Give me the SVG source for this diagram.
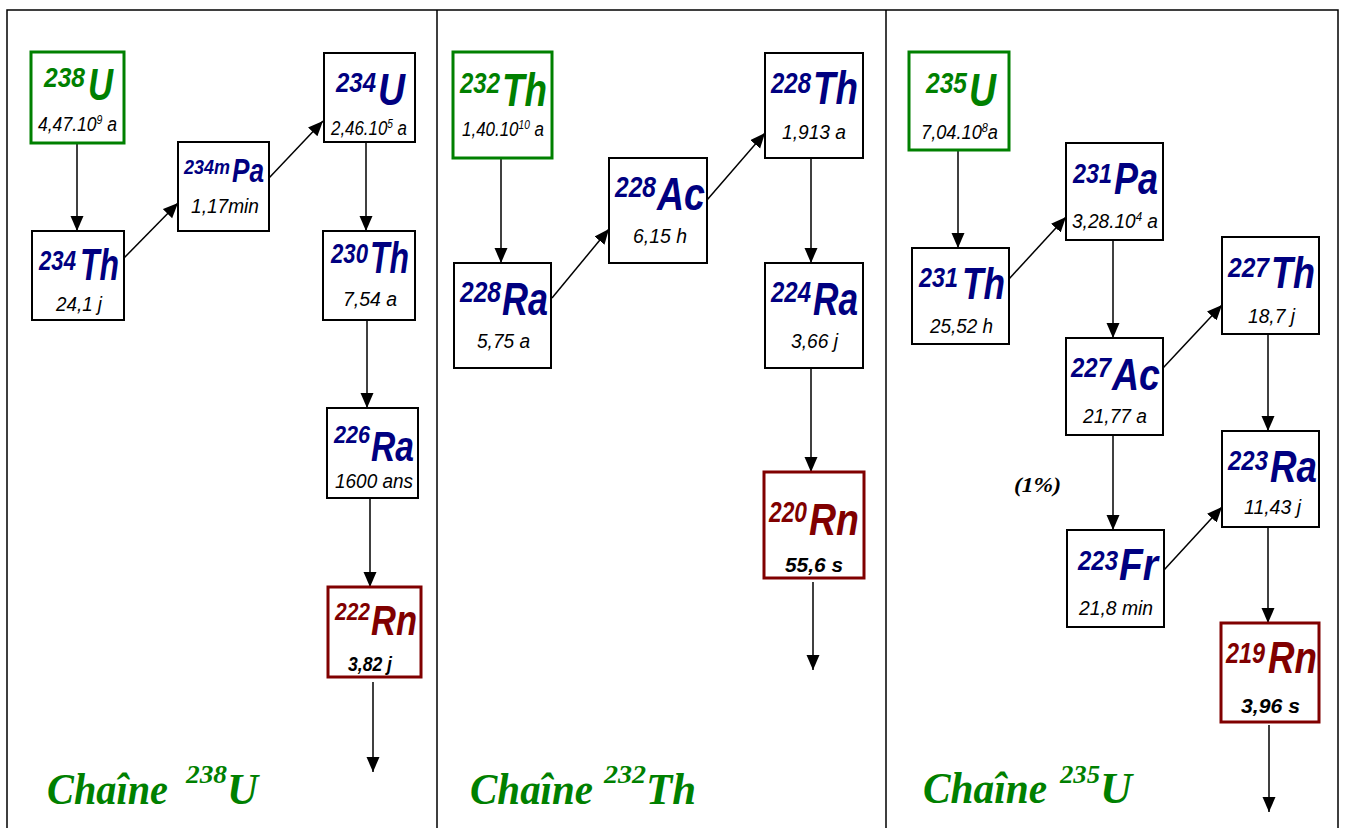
<svg xmlns="http://www.w3.org/2000/svg" width="1346" height="828" viewBox="0 0 1346 828">
<style>
.bx{fill:#fff;stroke:#000;stroke-width:2}
.bg{fill:#fff;stroke:#008000;stroke-width:3}
.br{fill:#fff;stroke:#800000;stroke-width:3}
.s{font-family:"Liberation Sans",Arial,sans-serif;font-weight:bold;font-style:italic}
.el{font-size:45px}
.sp{font-size:28px}
.b{fill:#000080}.g{fill:#008000}.r{fill:#800000}
.h{font-family:"Liberation Sans",Arial,sans-serif;font-style:italic;font-size:20px;fill:#000}
.hb{font-weight:bold;font-size:21px}
.hs{font-size:12px}
.t{font-family:"Liberation Serif","Times New Roman",serif;font-weight:bold;font-style:italic;fill:#008000}
.fr{fill:none;stroke:#000;stroke-width:1.5}
.c line{stroke:#000;stroke-width:1.5;marker-end:url(#ah)}
</style>
<defs>
<marker id="ah" markerUnits="userSpaceOnUse" markerWidth="16" markerHeight="14" refX="15" refY="6.5" orient="auto"><path d="M0,0 L15,6.5 L0,13 z" fill="#000"/></marker>
</defs>
<rect width="1346" height="828" fill="#fff"/>
<g id="frame">
<path class="fr" d="M7,828 V10 H1338 V828 M437,10 V828 M886,10 V828"/>
</g>
<g id="connectors" class="c">
<line x1="77" y1="143" x2="77" y2="231"/>
<line x1="124" y1="258" x2="178" y2="203"/>
<line x1="269" y1="178" x2="323" y2="121"/>
<line x1="366" y1="142" x2="366" y2="231"/>
<line x1="367" y1="320" x2="367" y2="408"/>
<line x1="370" y1="498" x2="370" y2="587"/>
<line x1="373" y1="682" x2="373" y2="772"/>
<line x1="501" y1="158" x2="501" y2="263"/>
<line x1="552" y1="298" x2="609" y2="229"/>
<line x1="707" y1="200" x2="765" y2="133"/>
<line x1="811" y1="158" x2="811" y2="263"/>
<line x1="811" y1="368" x2="811" y2="472"/>
<line x1="813" y1="582" x2="813" y2="670"/>
<line x1="958" y1="150" x2="958" y2="248"/>
<line x1="1009" y1="279" x2="1066" y2="217"/>
<line x1="1113" y1="240" x2="1113" y2="338"/>
<line x1="1163" y1="368" x2="1222" y2="305"/>
<line x1="1268" y1="334" x2="1268" y2="431"/>
<line x1="1113" y1="435" x2="1113" y2="530"/>
<line x1="1164" y1="570" x2="1222" y2="507"/>
<line x1="1268" y1="527" x2="1268" y2="623"/>
<line x1="1269" y1="725" x2="1269" y2="812"/>
</g>
<g id="n238U">
<rect class="bg" x="31" y="52" width="93" height="91"/>
<text class="s sp g" x="44" y="87" textLength="41" lengthAdjust="spacingAndGlyphs">238</text>
<text class="s el g" x="88" y="100" textLength="25" lengthAdjust="spacingAndGlyphs">U</text>
<text class="h" x="38" y="131" textLength="79" lengthAdjust="spacingAndGlyphs">4,47.10<tspan class="hs" dy="-7">9</tspan><tspan dy="7"> a</tspan></text>
</g>
<g id="n234Th">
<rect class="bx" x="32" y="231" width="92" height="89"/>
<text class="s sp b" x="39" y="270" textLength="37" lengthAdjust="spacingAndGlyphs">234</text>
<text class="s el b" x="80" y="280" textLength="39" lengthAdjust="spacingAndGlyphs">Th</text>
<text class="h" x="56" y="311" textLength="46" lengthAdjust="spacingAndGlyphs">24,1 j</text>
</g>
<g id="n234mPa">
<rect class="bx" x="178" y="142" width="91" height="89"/>
<text class="s b" style="font-size:21px" x="184" y="174" textLength="46" lengthAdjust="spacingAndGlyphs">234m</text>
<text class="s b" style="font-size:34px" x="232" y="182" textLength="32" lengthAdjust="spacingAndGlyphs">Pa</text>
<text class="h" x="191" y="213" textLength="68" lengthAdjust="spacingAndGlyphs">1,17min</text>
</g>
<g id="n234U">
<rect class="bx" x="324" y="53" width="91" height="89"/>
<text class="s sp b" x="336" y="92" textLength="40" lengthAdjust="spacingAndGlyphs">234</text>
<text class="s el b" x="378" y="105" textLength="27" lengthAdjust="spacingAndGlyphs">U</text>
<text class="h" x="331" y="135" textLength="76" lengthAdjust="spacingAndGlyphs">2,46.10<tspan class="hs" dy="-7">5</tspan><tspan dy="7"> a</tspan></text>
</g>
<g id="n230Th">
<rect class="bx" x="323" y="231" width="92" height="89"/>
<text class="s sp b" x="331" y="263" textLength="37" lengthAdjust="spacingAndGlyphs">230</text>
<text class="s el b" x="370" y="273" textLength="39" lengthAdjust="spacingAndGlyphs">Th</text>
<text class="h" x="343" y="306" textLength="54" lengthAdjust="spacingAndGlyphs">7,54 a</text>
</g>
<g id="n226Ra">
<rect class="bx" x="327" y="408" width="91" height="90"/>
<text class="s b" style="font-size:23px" x="334" y="443" textLength="36" lengthAdjust="spacingAndGlyphs">226</text>
<text class="s b" style="font-size:43px" x="371" y="461" textLength="43" lengthAdjust="spacingAndGlyphs">Ra</text>
<text class="h" x="335" y="488" textLength="78" lengthAdjust="spacingAndGlyphs">1600 ans</text>
</g>
<g id="n222Rn">
<rect class="br" x="328" y="587" width="93" height="90"/>
<text class="s r" style="font-size:24px" x="335" y="620" textLength="35" lengthAdjust="spacingAndGlyphs">222</text>
<text class="s r" style="font-size:42px" x="371" y="635" textLength="46" lengthAdjust="spacingAndGlyphs">Rn</text>
<text class="h hb" x="348" y="671" textLength="44" lengthAdjust="spacingAndGlyphs">3,82 j</text>
</g>
<g id="n232Th">
<rect class="bg" x="453" y="52" width="99" height="106"/>
<text class="s g" style="font-size:29px" x="460" y="93" textLength="40" lengthAdjust="spacingAndGlyphs">232</text>
<text class="s g" style="font-size:47px" x="502" y="106" textLength="45" lengthAdjust="spacingAndGlyphs">Th</text>
<text class="h" x="462" y="136" textLength="82" lengthAdjust="spacingAndGlyphs">1,40.10<tspan class="hs" dy="-7">10</tspan><tspan dy="7"> a</tspan></text>
</g>
<g id="n228Ra">
<rect class="bx" x="454" y="263" width="97" height="105"/>
<text class="s b" style="font-size:29px" x="460" y="302" textLength="41" lengthAdjust="spacingAndGlyphs">228</text>
<text class="s b" style="font-size:47px" x="502" y="315" textLength="46" lengthAdjust="spacingAndGlyphs">Ra</text>
<text class="h" x="477" y="348" textLength="53" lengthAdjust="spacingAndGlyphs">5,75 a</text>
</g>
<g id="n228Ac">
<rect class="bx" x="609" y="158" width="98" height="105"/>
<text class="s b" style="font-size:29px" x="615" y="197" textLength="41" lengthAdjust="spacingAndGlyphs">228</text>
<text class="s b" style="font-size:47px" x="657" y="210" textLength="48" lengthAdjust="spacingAndGlyphs">Ac</text>
<text class="h" x="633" y="243" textLength="54" lengthAdjust="spacingAndGlyphs">6,15 h</text>
</g>
<g id="n228Th">
<rect class="bx" x="765" y="53" width="98" height="105"/>
<text class="s b" style="font-size:29px" x="771" y="93" textLength="40" lengthAdjust="spacingAndGlyphs">228</text>
<text class="s b" style="font-size:47px" x="813" y="104" textLength="45" lengthAdjust="spacingAndGlyphs">Th</text>
<text class="h" x="782" y="139" textLength="64" lengthAdjust="spacingAndGlyphs">1,913 a</text>
</g>
<g id="n224Ra">
<rect class="bx" x="765" y="263" width="98" height="105"/>
<text class="s b" style="font-size:29px" x="771" y="302" textLength="40" lengthAdjust="spacingAndGlyphs">224</text>
<text class="s b" style="font-size:47px" x="813" y="315" textLength="45" lengthAdjust="spacingAndGlyphs">Ra</text>
<text class="h" x="791" y="348" textLength="47" lengthAdjust="spacingAndGlyphs">3,66 j</text>
</g>
<g id="n220Rn">
<rect class="br" x="764" y="472" width="100" height="106"/>
<text class="s r" style="font-size:29px" x="769" y="522" textLength="38" lengthAdjust="spacingAndGlyphs">220</text>
<text class="s r" style="font-size:45px" x="809" y="535" textLength="50" lengthAdjust="spacingAndGlyphs">Rn</text>
<text class="h hb" x="785" y="572" textLength="58" lengthAdjust="spacingAndGlyphs">55,6 s</text>
</g>
<g id="n235U">
<rect class="bg" x="909" y="52" width="100" height="98"/>
<text class="s g" style="font-size:29px" x="926" y="93" textLength="41" lengthAdjust="spacingAndGlyphs">235</text>
<text class="s g" style="font-size:46px" x="969" y="106" textLength="27" lengthAdjust="spacingAndGlyphs">U</text>
<text class="h" x="921" y="139" textLength="77" lengthAdjust="spacingAndGlyphs">7,04.10<tspan class="hs" dy="-7">8</tspan><tspan dy="7">a</tspan></text>
</g>
<g id="n231Th">
<rect class="bx" x="912" y="248" width="97" height="96"/>
<text class="s b" style="font-size:28px" x="919" y="287" textLength="39" lengthAdjust="spacingAndGlyphs">231</text>
<text class="s b" style="font-size:45px" x="962" y="299" textLength="43" lengthAdjust="spacingAndGlyphs">Th</text>
<text class="h" x="930" y="333" textLength="63" lengthAdjust="spacingAndGlyphs">25,52 h</text>
</g>
<g id="n231Pa">
<rect class="bx" x="1066" y="143" width="97" height="97"/>
<text class="s b" style="font-size:28px" x="1073" y="183" textLength="39" lengthAdjust="spacingAndGlyphs">231</text>
<text class="s b" style="font-size:45px" x="1114" y="194" textLength="44" lengthAdjust="spacingAndGlyphs">Pa</text>
<text class="h" x="1072" y="228" textLength="86" lengthAdjust="spacingAndGlyphs">3,28.10<tspan class="hs" dy="-7">4</tspan><tspan dy="7"> a</tspan></text>
</g>
<g id="n227Ac">
<rect class="bx" x="1066" y="338" width="97" height="97"/>
<text class="s b" style="font-size:28px" x="1071" y="377" textLength="40" lengthAdjust="spacingAndGlyphs">227</text>
<text class="s b" style="font-size:45px" x="1112" y="390" textLength="48" lengthAdjust="spacingAndGlyphs">Ac</text>
<text class="h" x="1083" y="423" textLength="64" lengthAdjust="spacingAndGlyphs">21,77 a</text>
</g>
<g id="n227Th">
<rect class="bx" x="1222" y="237" width="97" height="97"/>
<text class="s b" style="font-size:28px" x="1228" y="277" textLength="41" lengthAdjust="spacingAndGlyphs">227</text>
<text class="s b" style="font-size:45px" x="1271" y="288" textLength="44" lengthAdjust="spacingAndGlyphs">Th</text>
<text class="h" x="1248" y="323" textLength="47" lengthAdjust="spacingAndGlyphs">18,7 j</text>
</g>
<g id="n223Ra">
<rect class="bx" x="1222" y="431" width="97" height="96"/>
<text class="s b" style="font-size:28px" x="1228" y="470" textLength="40" lengthAdjust="spacingAndGlyphs">223</text>
<text class="s b" style="font-size:45px" x="1270" y="482" textLength="47" lengthAdjust="spacingAndGlyphs">Ra</text>
<text class="h" x="1244" y="514" textLength="57" lengthAdjust="spacingAndGlyphs">11,43 j</text>
</g>
<g id="n223Fr">
<rect class="bx" x="1067" y="530" width="97" height="97"/>
<text class="s b" style="font-size:28px" x="1078" y="570" textLength="40" lengthAdjust="spacingAndGlyphs">223</text>
<text class="s b" style="font-size:45px" x="1119" y="580" textLength="39" lengthAdjust="spacingAndGlyphs">Fr</text>
<text class="h" x="1079" y="615" textLength="74" lengthAdjust="spacingAndGlyphs">21,8 min</text>
</g>
<g id="n219Rn">
<rect class="br" x="1221" y="623" width="98" height="99"/>
<text class="s r" style="font-size:29px" x="1226" y="663" textLength="39" lengthAdjust="spacingAndGlyphs">219</text>
<text class="s r" style="font-size:45px" x="1268" y="673" textLength="49" lengthAdjust="spacingAndGlyphs">Rn</text>
<text class="h hb" x="1241" y="713" textLength="59" lengthAdjust="spacingAndGlyphs">3,96 s</text>
</g>
<g id="branch">
<text class="t" style="font-size:20px;fill:#000" x="1014" y="492" textLength="47" lengthAdjust="spacingAndGlyphs">(1%)</text>
</g>
<g id="titles">
<text class="t" style="font-size:44px" x="47" y="804" textLength="121" lengthAdjust="spacingAndGlyphs">Chaîne</text>
<text class="t" style="font-size:26px" x="186" y="783" textLength="41" lengthAdjust="spacingAndGlyphs">238</text>
<text class="t" style="font-size:44px" x="227" y="804" textLength="31" lengthAdjust="spacingAndGlyphs">U</text>
<text class="t" style="font-size:44px" x="470" y="804" textLength="123" lengthAdjust="spacingAndGlyphs">Chaîne</text>
<text class="t" style="font-size:26px" x="604" y="783" textLength="42" lengthAdjust="spacingAndGlyphs">232</text>
<text class="t" style="font-size:44px" x="646" y="804" textLength="50" lengthAdjust="spacingAndGlyphs">Th</text>
<text class="t" style="font-size:44px" x="923" y="803" textLength="124" lengthAdjust="spacingAndGlyphs">Chaîne</text>
<text class="t" style="font-size:26px" x="1060" y="783" textLength="40" lengthAdjust="spacingAndGlyphs">235</text>
<text class="t" style="font-size:44px" x="1100" y="803" textLength="32" lengthAdjust="spacingAndGlyphs">U</text>
</g>
</svg>
